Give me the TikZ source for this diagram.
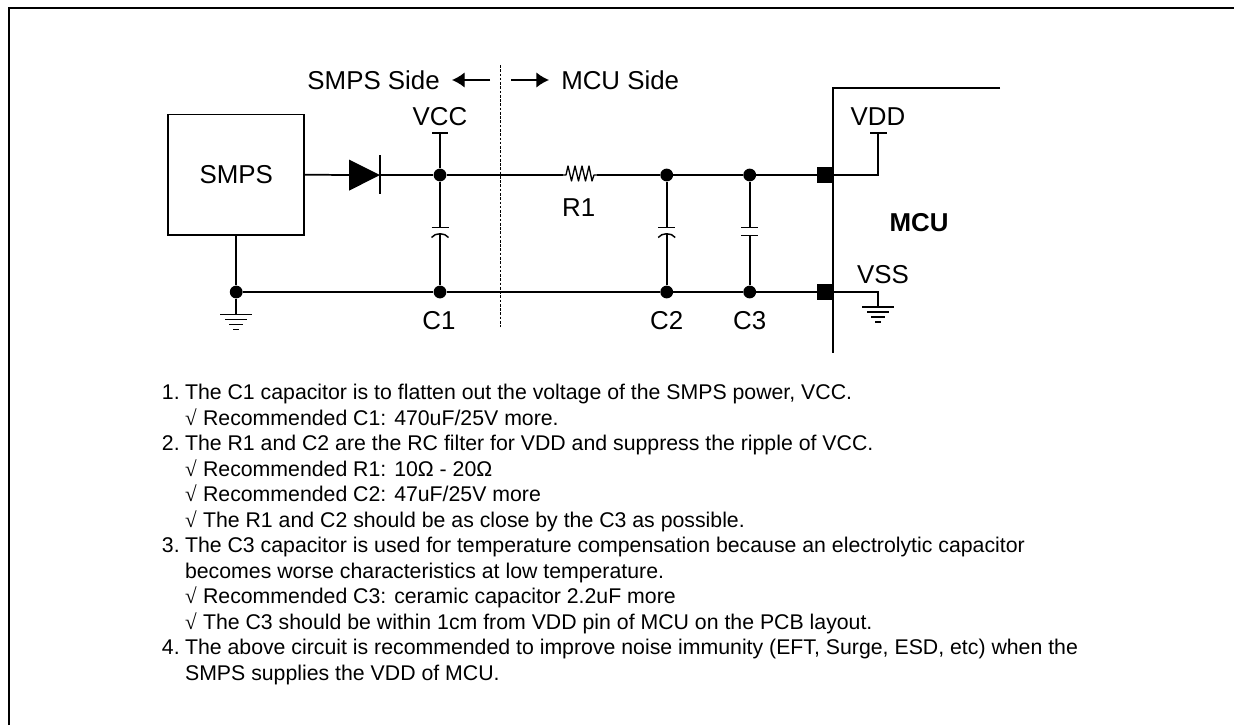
\documentclass[tikz,border=0pt]{standalone}
\usepackage{fontspec}
\setmainfont{Liberation Sans}
\newfontfamily\rootfont{Liberation Serif}
\usetikzlibrary{arrows.meta}
\newcommand{\rt}{\makebox[13.5pt][l]{\rootfont\fontsize{15.9pt}{18pt}\selectfont √}}
\newcommand{\num}[1]{\makebox[17.3pt][l]{#1}}
\tikzset{
 wire/.style={line width=1.3pt},
 thin wire/.style={line width=1pt},
 dotnode/.style={circle,fill=black,inner sep=0pt,minimum size=9.6pt},
 padnode/.style={rectangle,fill=black,inner sep=0pt,minimum width=12pt,minimum height=12.4pt},
 lbl/.style={inner sep=0pt,font=\fontsize{19.4pt}{22pt}\selectfont},
 txt/.style={inner sep=0pt,anchor=base west,font=\fontsize{15.96pt}{18pt}\selectfont},
 plate/.style={line width=1.1pt},
 sidearrow/.style={line width=1pt,-{Latex[length=9.5pt,width=11.5pt]}},
}
\newcommand{\gnd}[2]{%
 \draw[wire] (#1-16,#2) -- (#1+16,#2);
 \draw[wire] (#1-11,#2+5) -- (#1+11,#2+5);
 \draw[wire] (#1-7,#2+10) -- (#1+7,#2+10);
 \draw[wire] (#1-3,#2+15) -- (#1+3,#2+15);}
\begin{document}
\begin{tikzpicture}[x=0.75pt,y=-0.75pt]
\useasboundingbox (0,0) rectangle (1234,725);
% frame
\draw[line width=1.5pt] (9,725) -- (9,8) -- (1234,8);
% SMPS
\node[draw,line width=1.2pt,minimum width=102pt,minimum height=90.5pt,inner sep=0pt,lbl] (smps) at (236.2,174.7) {SMPS};
% coordinates / junctions
\node[dotnode] (j1) at (440,175) {};
\node[dotnode] (j2) at (666.7,175) {};
\node[dotnode] (j3) at (749.7,175) {};
\node[dotnode] (g0) at (236.2,292) {};
\node[dotnode] (g1) at (440,292) {};
\node[dotnode] (g2) at (666.7,292) {};
\node[dotnode] (g3) at (749.7,292) {};
\node[padnode] (pd) at (825,175) {};
\node[padnode] (ps) at (825,292) {};
% diode
\coordinate (da) at (349,175);
\coordinate (dk) at (380,175);
\fill (349,159.5) -- (380,175) -- (349,190.7) -- cycle;
\draw[wire] (380,155) -- (380,194);
\draw[wire] (smps.east) -- (da);
\draw[wire] (dk) -- (j1);
% VCC
\coordinate (vcc) at (440,133);
\draw[wire] (j1) -- (vcc);
\draw[wire] (432,133) -- (448,133);
\node[lbl] (vcclbl) at (440,117) {VCC};
% resistor
\coordinate (ra) at (563,175);
\coordinate (rb) at (597,175);
\draw[thin wire] (j1) -- (ra);
\draw[thin wire,line join=round] (ra) -- (566,175) -- (568,166) -- (571.5,181) -- (575,166) -- (578.5,181) -- (582,166) -- (585.5,181) -- (589,166) -- (592,181) -- (594,175) -- (rb);
\draw[thin wire] (rb) -- (j2);
\node[lbl] (r1) at (578.7,207.7) {R1};
% top / bottom rails
\draw[wire] (j2) -- (j3);
\draw[wire] (j3) -- (pd);
\draw[wire] (smps.south) -- (g0);
\draw[wire] (g0) -- (g1);
\draw[wire] (g1) -- (g2);
\draw[wire] (g2) -- (g3);
\draw[wire] (g3) -- (ps);
% ground left
\coordinate (gl) at (236.2,314.5);
\draw[wire] (g0) -- (gl);
\gnd{236.2}{314.5}
% C1
\draw[wire] (j1) -- (440,227.7);
\draw[plate] (431.5,227.7) -- (448.5,227.7);
\draw[plate] (431.5,237.5) .. controls (435,232.5) and (445,232.5) .. (448.5,237.5);
\draw[wire] (440,234) -- (g1);
% C2
\draw[wire] (j2) -- (666.7,227.7);
\draw[plate] (658.2,227.7) -- (675.2,227.7);
\draw[plate] (658.2,237.5) .. controls (661.7,232.5) and (671.7,232.5) .. (675.2,237.5);
\draw[wire] (666.7,234) -- (g2);
% C3
\draw[wire] (j3) -- (749.7,227.7);
\draw[plate] (741.2,227.7) -- (758.2,227.7);
\draw[plate] (741.2,235.3) -- (758.2,235.3);
\draw[wire] (749.7,235.3) -- (g3);
\node[lbl] (c1) at (439,321) {C1};
\node[lbl] (c2) at (666.7,321) {C2};
\node[lbl] (c3) at (749.7,321) {C3};
% divider
\draw[line width=1pt,dash pattern=on 2pt off 1.2pt] (500.3,65) -- (500.3,327);
\node[lbl,anchor=east] (smpsside) at (440,80) {SMPS Side};
\node[lbl,anchor=west] (mcuside) at (561,80) {MCU Side};
\draw[sidearrow] (490,80) -- (452,80);
\draw[sidearrow] (511,80) -- (549,80);
% MCU
\draw[line width=1.2pt] (1000,88) -- (832.7,88) -- (832.7,352.7);
\node[lbl,font=\fontsize{19.4pt}{22pt}\bfseries\selectfont] (mcu) at (919,222.7) {MCU};
\coordinate (vddc) at (878.3,175);
\coordinate (vddt) at (878.3,133);
\draw[wire] (pd.east) -- (vddc) -- (vddt);
\draw[wire] (870,133) -- (887,133);
\node[lbl] (vdd) at (878,117) {VDD};
\coordinate (vssc) at (878.3,292);
\coordinate (vssb) at (878.3,307.3);
\draw[wire] (ps.east) -- (vssc) -- (vssb);
\gnd{878.3}{307.3}
\node[lbl] (vss) at (883,275) {VSS};
% notes
\def\nx{161.7}\def\ix{184.8}
\node[txt] (n1) at (\nx,399.5) {\num{1.}The C1 capacitor is to flatten out the voltage of the SMPS power, VCC.};
\node[txt] (n2) at (\ix,425) {\rt Recommended C1: 470uF/25V more.};
\node[txt] (n3) at (\nx,450.5) {\num{2.}The R1 and C2 are the RC filter for VDD and suppress the ripple of VCC.};
\node[txt] (n4) at (\ix,476) {\rt Recommended R1: 10Ω - 20Ω};
\node[txt] (n5) at (\ix,501.5) {\rt Recommended C2: 47uF/25V more};
\node[txt] (n6) at (\ix,527) {\rt The R1 and C2 should be as close by the C3 as possible.};
\node[txt] (n7) at (\nx,552.5) {\num{3.}The C3 capacitor is used for temperature compensation because an electrolytic capacitor};
\node[txt] (n8) at (\ix,578) {becomes worse characteristics at low temperature.};
\node[txt] (n9) at (\ix,603.5) {\rt Recommended C3: ceramic capacitor 2.2uF more};
\node[txt] (n10) at (\ix,629) {\rt The C3 should be within 1cm from VDD pin of MCU on the PCB layout.};
\node[txt] (n11) at (\nx,654.5) {\num{4.}The above circuit is recommended to improve noise immunity (EFT, Surge, ESD, etc) when the};
\node[txt] (n12) at (\ix,680) {SMPS supplies the VDD of MCU.};
\end{tikzpicture}
\end{document}
